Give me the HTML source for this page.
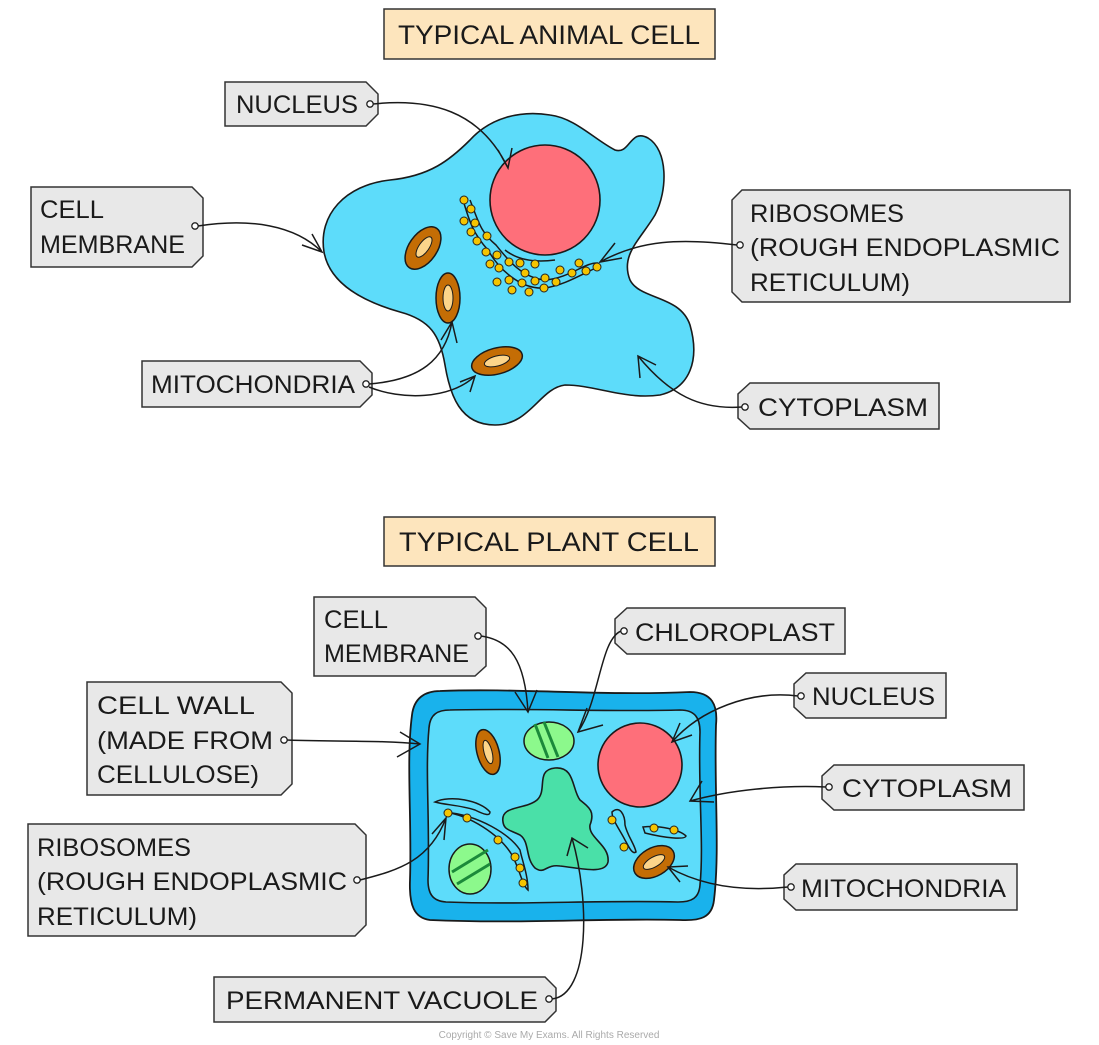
<!DOCTYPE html>
<html><head><meta charset="utf-8"><style>
html,body{margin:0;padding:0;background:#fff}
svg{display:block}
text{font-family:"Liberation Sans",sans-serif;fill:#1a1a1a;font-size:25px}
.tag{fill:#e8e8e8;stroke:#333;stroke-width:1.5}
.hole{fill:#fff;stroke:#222;stroke-width:1.3}
.ln{fill:none;stroke:#1a1a1a;stroke-width:1.5}
.dot{fill:#f5c400;stroke:#222;stroke-width:1}
</style></head><body>
<svg width="1099" height="1045" viewBox="0 0 1099 1045" xmlns="http://www.w3.org/2000/svg">
<rect x="384" y="9" width="331" height="50" fill="#fde5bd" stroke="#333" stroke-width="1.5"/>
<text x="398" y="44" textLength="302" lengthAdjust="spacingAndGlyphs" style="font-size:27px">TYPICAL  ANIMAL  CELL</text>
<rect x="384" y="517" width="331" height="49" fill="#fde5bd" stroke="#333" stroke-width="1.5"/>
<text x="399" y="551" textLength="300" lengthAdjust="spacingAndGlyphs" style="font-size:27px">TYPICAL  PLANT  CELL</text>

<path d="M324,252 C318,215 345,185 390,180 C430,176 450,160 470,140 C490,118 520,110 550,115 C575,118 595,140 615,150 C630,155 630,128 648,138 C668,150 668,190 655,215 C640,240 620,255 630,280 C640,300 680,295 690,325 C700,360 690,388 660,395 C625,400 595,385 565,385 C540,388 530,425 495,425 C460,425 450,395 445,365 C440,335 430,320 400,312 C365,302 330,285 324,252 Z" fill="#5ddcfa" stroke="#1a1a1a" stroke-width="1.6"/>
<circle cx="545" cy="200" r="55" fill="#fe6f7a" stroke="#1a1a1a" stroke-width="1.6"/>
<path class="ln" d="M462,197 C468,215 470,230 488,250 C498,268 520,290 545,288 C565,285 580,275 598,267 M470,200 C478,220 480,232 496,245 C508,260 522,278 545,280 C570,278 585,262 598,263 M505,250 C520,262 540,262 555,260" />
<g class="dot">
<circle cx="464" cy="200" r="4"/><circle cx="471" cy="209" r="4"/><circle cx="464" cy="221" r="4"/><circle cx="475" cy="223" r="4"/><circle cx="471" cy="232" r="4"/><circle cx="477" cy="241" r="4"/><circle cx="487" cy="236" r="4"/><circle cx="486" cy="252" r="4"/><circle cx="497" cy="255" r="4"/><circle cx="490" cy="264" r="4"/><circle cx="499" cy="268" r="4"/><circle cx="497" cy="282" r="4"/><circle cx="509" cy="280" r="4"/><circle cx="512" cy="290" r="4"/><circle cx="522" cy="283" r="4"/><circle cx="529" cy="292" r="4"/><circle cx="535" cy="281" r="4"/><circle cx="544" cy="288" r="4"/><circle cx="545" cy="278" r="4"/><circle cx="556" cy="282" r="4"/><circle cx="560" cy="270" r="4"/><circle cx="572" cy="273" r="4"/><circle cx="579" cy="263" r="4"/><circle cx="586" cy="271" r="4"/><circle cx="597" cy="267" r="4"/><circle cx="509" cy="262" r="4"/><circle cx="520" cy="263" r="4"/><circle cx="535" cy="264" r="4"/><circle cx="525" cy="273" r="4"/>
</g>
<g fill="#c46d05" stroke="#1a1a1a" stroke-width="1.5">
<ellipse cx="423" cy="248" rx="14" ry="24" transform="rotate(35 423 248)"/>
<ellipse cx="448" cy="298" rx="12" ry="25"/>
<ellipse cx="497" cy="361" rx="26" ry="13" transform="rotate(-15 497 361)"/>
</g>
<g fill="#fcd58a" stroke="#1a1a1a" stroke-width="1">
<ellipse cx="424" cy="247" rx="5" ry="12" transform="rotate(35 424 247)"/>
<ellipse cx="448" cy="298" rx="5" ry="13"/>
<ellipse cx="497" cy="361" rx="13" ry="5" transform="rotate(-15 497 361)"/>
</g>

<path class="tag" d="M225,82 H366 L378,94 V114 L366,126 H225 Z"/>
<text x="236" y="113" textLength="122" lengthAdjust="spacingAndGlyphs">NUCLEUS</text>
<circle class="hole" cx="370" cy="104" r="3.2"/>
<path class="ln" d="M373,104 C430,98 480,110 508,168 M498,150 L508,168 L512,148"/>

<path class="tag" d="M31,187 H192 L203,198 V256 L192,267 H31 Z"/>
<text x="40" y="218" textLength="64" lengthAdjust="spacingAndGlyphs">CELL</text>
<text x="40" y="253" textLength="145" lengthAdjust="spacingAndGlyphs">MEMBRANE</text>
<circle class="hole" cx="195" cy="226" r="3.2"/>
<path class="ln" d="M198,226 C250,218 295,225 322,252 M302,245 L322,252 L312,234"/>

<path class="tag" d="M742,190 H1070 V302 H742 L732,292 V200 Z"/>
<text x="750" y="222" textLength="154" lengthAdjust="spacingAndGlyphs">RIBOSOMES</text>
<text x="750" y="256" textLength="310" lengthAdjust="spacingAndGlyphs">(ROUGH  ENDOPLASMIC</text>
<text x="750" y="291" textLength="160" lengthAdjust="spacingAndGlyphs">RETICULUM)</text>
<circle class="hole" cx="740" cy="245" r="3.2"/>
<path class="ln" d="M737,245 C680,238 640,240 600,262 M615,243 L600,262 L622,258"/>

<path class="tag" d="M142,361 H360 L372,373 V395 L360,407 H142 Z"/>
<text x="151" y="393" textLength="204" lengthAdjust="spacingAndGlyphs">MITOCHONDRIA</text>
<circle class="hole" cx="366" cy="384" r="3.2"/>
<path class="ln" d="M369,384 C420,380 445,360 452,322 M441,340 L452,322 L457,343"/>
<path class="ln" d="M369,387 C400,400 450,400 475,376 M460,382 L475,376 L470,392"/>

<path class="tag" d="M750,383 H939 V429 H750 L738,418 V394 Z"/>
<text x="758" y="416" textLength="170" lengthAdjust="spacingAndGlyphs">CYTOPLASM</text>
<circle class="hole" cx="745" cy="407" r="3.2"/>
<path class="ln" d="M742,407 C700,410 670,395 638,356 M640,378 L638,356 L656,365"/>

<path d="M440,691 C520,688 600,696 690,692 C712,692 718,705 716,725 C714,790 720,850 714,900 C712,918 700,921 680,920 C600,918 520,924 430,920 C414,918 409,905 410,880 C412,820 406,760 412,715 C414,698 425,691 440,691 Z" fill="#19b2ec" stroke="#1a1a1a" stroke-width="1.8"/>
<path d="M450,710 C530,708 610,712 680,710 C695,710 700,718 700,732 C698,790 704,845 700,885 C699,898 692,902 678,902 C600,900 520,905 446,902 C432,901 428,893 428,880 C430,820 425,770 429,728 C430,714 438,710 450,710 Z" fill="#5ddcfa" stroke="#1a1a1a" stroke-width="1.6"/>
<circle cx="640" cy="765" r="42" fill="#fe6f7a" stroke="#1a1a1a" stroke-width="1.6"/>
<path d="M503,822 C500,805 525,810 537,800 C548,790 535,770 555,768 C575,766 572,790 580,800 C590,808 595,812 590,825 C588,838 610,845 608,862 C605,875 580,868 560,866 C545,864 545,875 535,868 C525,858 530,842 520,835 C510,830 504,830 503,822 Z" fill="#4ae0a8" stroke="#1a1a1a" stroke-width="1.6"/>
<ellipse cx="549" cy="741" rx="25" ry="19" fill="#8cf98c" stroke="#1a1a1a" stroke-width="1.5"/>
<path d="M535,724 L548,758 M544,722 L558,757" stroke="#1b8a3a" stroke-width="3"/>
<ellipse cx="470" cy="869" rx="21" ry="25" fill="#8cf98c" stroke="#1a1a1a" stroke-width="1.5"/>
<path d="M452,872 L488,850 M457,884 L490,864" stroke="#1b8a3a" stroke-width="3"/>
<ellipse cx="488" cy="752" rx="11" ry="23" transform="rotate(-15 488 752)" fill="#c46d05" stroke="#1a1a1a" stroke-width="1.5"/>
<ellipse cx="488" cy="752" rx="4" ry="12" transform="rotate(-15 488 752)" fill="#fcd58a" stroke="#1a1a1a"/>
<ellipse cx="654" cy="862" rx="22" ry="14" transform="rotate(-30 654 862)" fill="#c46d05" stroke="#1a1a1a" stroke-width="1.5"/>
<ellipse cx="654" cy="862" rx="12" ry="5" transform="rotate(-30 654 862)" fill="#fcd58a" stroke="#1a1a1a"/>
<path class="ln" d="M435,802 C450,795 480,800 490,812 C490,816 485,815 475,810 C460,805 445,805 435,802 Z M444,812 C470,815 500,835 512,855 C520,870 522,885 528,890 C528,875 522,860 520,850 C510,835 480,815 444,812"/>
<path class="ln" d="M612,812 C620,805 625,815 625,825 C627,835 635,845 636,852 C632,855 628,845 625,840 C620,830 612,820 612,812 Z M643,827 C660,825 680,830 686,836 C685,840 665,838 645,833 Z"/>
<g class="dot">
<circle cx="448" cy="813" r="4"/><circle cx="467" cy="818" r="4"/><circle cx="498" cy="840" r="4"/><circle cx="515" cy="857" r="4"/><circle cx="520" cy="868" r="4"/><circle cx="523" cy="883" r="4"/>
<circle cx="612" cy="820" r="4"/><circle cx="624" cy="847" r="4"/><circle cx="654" cy="828" r="4"/><circle cx="674" cy="830" r="4"/>
</g>

<path class="tag" d="M314,597 H475 L486,608 V666 L475,676 H314 Z"/>
<text x="324" y="628" textLength="64" lengthAdjust="spacingAndGlyphs">CELL</text>
<text x="324" y="662" textLength="145" lengthAdjust="spacingAndGlyphs">MEMBRANE</text>
<circle class="hole" cx="478" cy="636" r="3.2"/>
<path class="ln" d="M481,636 C510,640 525,660 528,712 M515,692 L528,712 L537,690"/>

<path class="tag" d="M627,608 H845 V654 H627 L615,643 V619 Z"/>
<text x="635" y="641" textLength="200" lengthAdjust="spacingAndGlyphs">CHLOROPLAST</text>
<circle class="hole" cx="624" cy="631" r="3.2"/>
<path class="ln" d="M621,631 C600,640 600,700 578,732 M587,708 L578,732 L603,725"/>

<path class="tag" d="M87,682 H281 L292,693 V784 L281,795 H87 Z"/>
<text x="97" y="714" textLength="158" lengthAdjust="spacingAndGlyphs">CELL  WALL</text>
<text x="97" y="749" textLength="176" lengthAdjust="spacingAndGlyphs">(MADE  FROM</text>
<text x="97" y="783" textLength="162" lengthAdjust="spacingAndGlyphs">CELLULOSE)</text>
<circle class="hole" cx="284" cy="740" r="3.2"/>
<path class="ln" d="M287,740 C340,742 380,740 420,744 M400,732 L420,744 L397,757"/>

<path class="tag" d="M806,673 H946 V718 H806 L794,707 V684 Z"/>
<text x="812" y="705" textLength="123" lengthAdjust="spacingAndGlyphs">NUCLEUS</text>
<circle class="hole" cx="801" cy="696" r="3.2"/>
<path class="ln" d="M798,696 C750,690 700,710 672,742 M680,723 L672,742 L692,735"/>

<path class="tag" d="M834,765 H1024 V810 H834 L822,799 V776 Z"/>
<text x="842" y="797" textLength="170" lengthAdjust="spacingAndGlyphs">CYTOPLASM</text>
<circle class="hole" cx="829" cy="787" r="3.2"/>
<path class="ln" d="M826,787 C780,785 730,790 690,801 M702,781 L690,801 L714,802"/>

<path class="tag" d="M28,824 H355 L366,835 V925 L355,936 H28 Z"/>
<text x="37" y="856" textLength="154" lengthAdjust="spacingAndGlyphs">RIBOSOMES</text>
<text x="37" y="890" textLength="310" lengthAdjust="spacingAndGlyphs">(ROUGH  ENDOPLASMIC</text>
<text x="37" y="925" textLength="160" lengthAdjust="spacingAndGlyphs">RETICULUM)</text>
<circle class="hole" cx="357" cy="880" r="3.2"/>
<path class="ln" d="M360,880 C400,870 430,860 446,818 M432,834 L446,818 L444,840"/>

<path class="tag" d="M796,864 H1017 V910 H796 L784,899 V875 Z"/>
<text x="801" y="897" textLength="205" lengthAdjust="spacingAndGlyphs">MITOCHONDRIA</text>
<circle class="hole" cx="791" cy="887" r="3.2"/>
<path class="ln" d="M788,887 C740,892 700,885 668,867 M688,866 L668,867 L680,882"/>

<path class="tag" d="M214,977 H545 L556,988 V1011 L545,1022 H214 Z"/>
<text x="226" y="1009" textLength="312" lengthAdjust="spacingAndGlyphs">PERMANENT  VACUOLE</text>
<circle class="hole" cx="549" cy="999" r="3.2"/>
<path class="ln" d="M552,999 C590,995 590,900 572,838 M567,856 L572,838 L588,848"/>

<text x="549" y="1038" text-anchor="middle" style="font-size:10px;fill:#aaa">Copyright © Save My Exams. All Rights Reserved</text>
</svg>
</body></html>
